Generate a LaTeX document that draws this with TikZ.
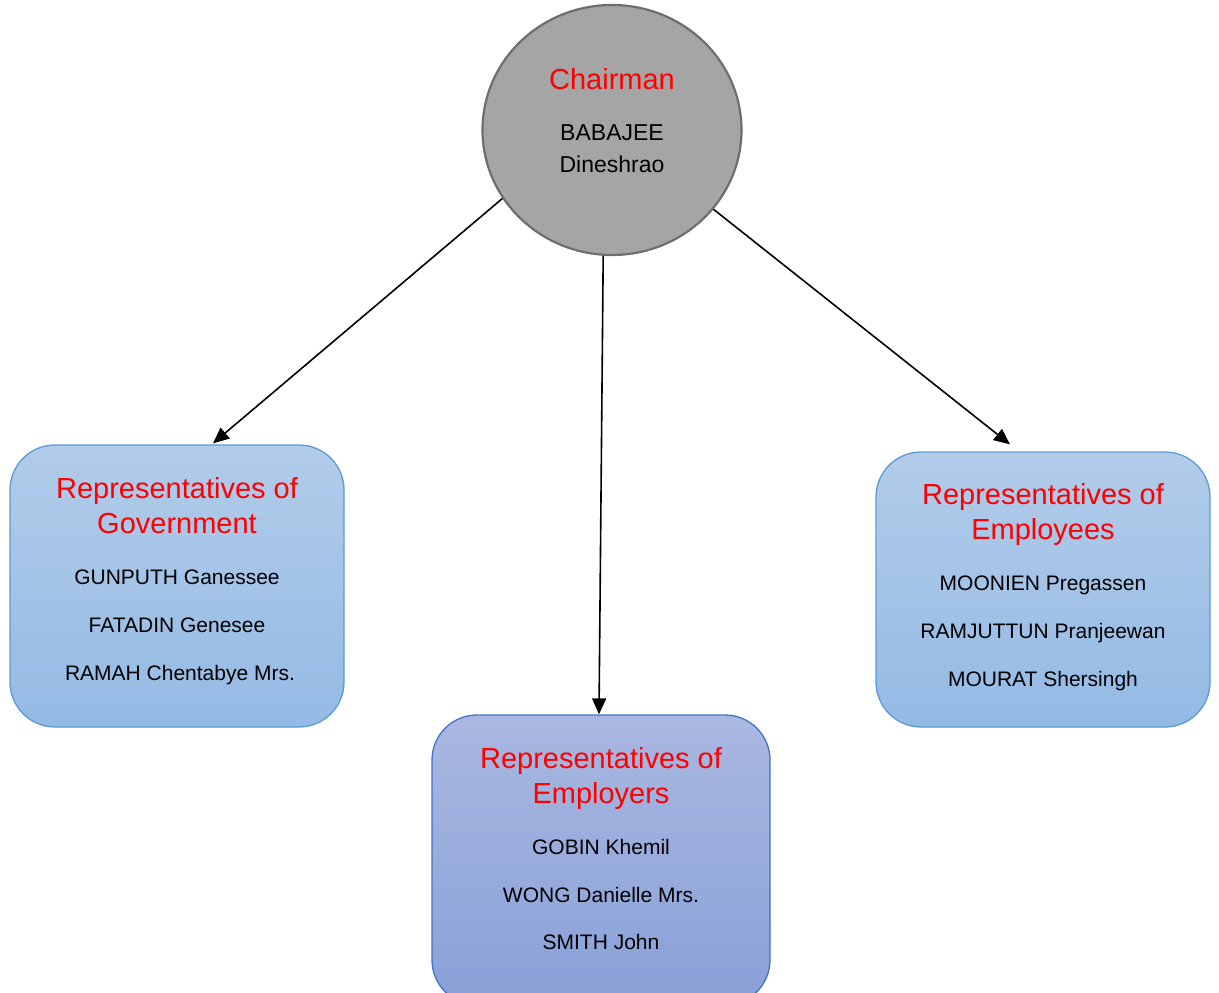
\documentclass[tikz,border=0pt]{standalone}
\usepackage{fontspec}
\setmainfont{Liberation Sans}
\usetikzlibrary{arrows.meta,shapes.geometric}
\definecolor{chairfill}{RGB}{165,165,165}
\definecolor{chairline}{RGB}{110,110,110}
\definecolor{boxtop}{RGB}{178,204,234}
\definecolor{boxbot}{RGB}{148,186,228}
\definecolor{boxline}{RGB}{91,155,213}
\definecolor{embtop}{RGB}{170,184,225}
\definecolor{embbot}{RGB}{136,160,216}
\definecolor{embline}{RGB}{68,114,196}
\tikzset{
  chairnode/.style={ellipse, draw=chairline, line width=2.2pt, fill=chairfill, minimum width=259pt, minimum height=250pt, inner sep=0},
  repbox/.style={rounded corners=45pt, draw=boxline, line width=1.3pt, top color=boxtop, bottom color=boxbot, inner sep=0},
  embox/.style={rounded corners=45pt, draw=embline, line width=1.3pt, top color=embtop, bottom color=embbot, inner sep=0},
  head/.style={font=\fontsize{29}{35}\selectfont, text=red, anchor=base, inner sep=0},
  person/.style={font=\fontsize{21}{25}\selectfont, text=black, anchor=base, inner sep=0},
  cperson/.style={font=\fontsize{23}{27}\selectfont, text=black, anchor=base, inner sep=0},
  link/.style={line width=1.6pt, -{Triangle[length=16pt,width=14pt]}}
}
\begin{document}
\begin{tikzpicture}[x=1pt,y=-1pt]
\useasboundingbox (0,0) rectangle (1219,993);
\clip (0,0) rectangle (1219,993);
% boxes
\node[chairnode] (chair) at (612,130) {};
\node[repbox, minimum width=334pt, minimum height=282pt] (gov) at (177,586) {};
\node[embox, minimum width=338pt, minimum height=290pt] (emp) at (601,860) {};
\node[repbox, minimum width=334pt, minimum height=275pt] (ees) at (1043,589.5) {};
% chairman texts
\node[head] (c1) at (612,89) {Chairman};
\node[cperson] (c2) at (612,140) {BABAJEE};
\node[cperson] (c3) at (612,172) {Dineshrao};
% government
\node[head] (g1) at (177,498) {Representatives of};
\node[head] (g2) at (177,533) {Government};
\node[person] (g3) at (177,584) {GUNPUTH Ganessee};
\node[person] (g4) at (177,632) {FATADIN Genesee};
\node[person] (g5) at (180,680) {RAMAH Chentabye Mrs.};
% employers
\node[head] (e1) at (601,768) {Representatives of};
\node[head] (e2) at (601,803) {Employers};
\node[person] (e3) at (601,854) {GOBIN Khemil};
\node[person] (e4) at (601,902) {WONG Danielle Mrs.};
\node[person] (e5) at (601,949) {SMITH John};
% employees
\node[head] (s1) at (1043,504) {Representatives of};
\node[head] (s2) at (1043,539) {Employees};
\node[person] (s3) at (1043,590) {MOONIEN Pregassen};
\node[person] (s4) at (1043,638) {RAMJUTTUN Pranjeewan};
\node[person] (s5) at (1043,686) {MOURAT Shersingh};
% connectors
\draw[link] (chair.212) -- ([xshift=36pt,yshift=1pt]gov.north);
\draw[link] (chair.-94) -- ([xshift=-2pt]emp.north);
\draw[link] (chair.-38) -- ([xshift=-33pt,yshift=7pt]ees.north);
\end{tikzpicture}
\end{document}
